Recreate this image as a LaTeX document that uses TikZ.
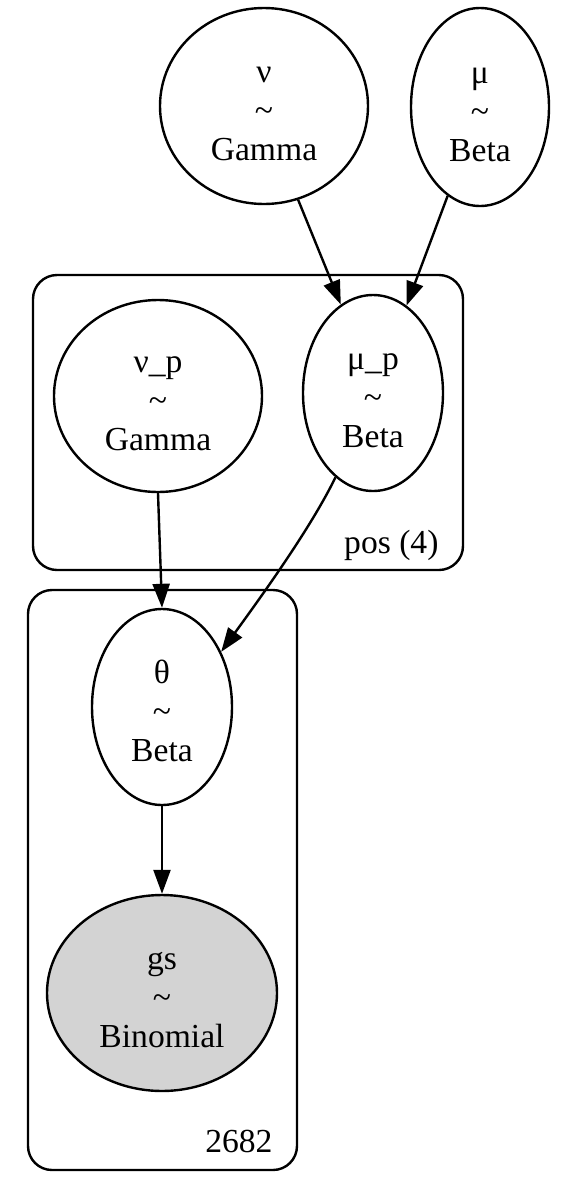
\documentclass[tikz,border=0pt]{standalone}
\usepackage{fontspec}
\setmainfont{Liberation Serif}
\usepackage{xcolor}
\usepackage{tikz}
\usetikzlibrary{arrows.meta, shapes.geometric, positioning, calc}
\definecolor{GrisObs}{RGB}{211,211,211}
\newcommand{\rvlabel}[2]{\rule{0pt}{32pt}#1\\\textasciitilde\\#2}

\begin{document}
\begin{tikzpicture}[x=1pt,y=-1pt,line width=2.4pt,
    font=\fontsize{33.6}{39}\selectfont,
    rv/.style={draw,ellipse,inner sep=0pt,align=center},
    plate/.style={draw,rounded corners=24pt},
    edge/.style={-{Triangle[length=24pt,width=17pt]}}]
  \useasboundingbox (0,0) rectangle (560,1200);
  % plates
  \draw[plate] (33,275) rectangle (463,570);
  \draw[plate] (28,590) rectangle (297,1170);
  \node[anchor=base east] (lblpos) at (443,553) {pos (4)};
  \node[anchor=base east] (lblobs) at (277,1152) {2682};
  % variables
  \node[rv,minimum width=208pt,minimum height=196pt] (nu) at (264,106) {\rvlabel{ν}{Gamma}};
  \node[rv,minimum width=138pt,minimum height=198pt] (mu) at (480,107) {\rvlabel{μ}{Beta}};
  \node[rv,minimum width=208pt,minimum height=192pt] (nup) at (158,396) {\rvlabel{ν\_p}{Gamma}};
  \node[rv,minimum width=140pt,minimum height=196pt] (mup) at (373,393) {\rvlabel{μ\_p}{Beta}};
  \node[rv,minimum width=140pt,minimum height=196pt] (theta) at (162,707) {\rvlabel{θ}{Beta}};
  \node[rv,fill=GrisObs,minimum width=230pt,minimum height=196pt] (gs) at (162,993) {\rvlabel{gs}{Binomial}};
  % edges
  \foreach \a/\b in {nu.290/mup.110, mu.250/mup.69, nup.south/theta.north, theta/gs}{
    \draw[edge] (\a) -- (\b);
  }
  \draw[edge] (mup.246) .. controls (310,530) and (255,605) .. (theta.43);
\end{tikzpicture}
\end{document}
